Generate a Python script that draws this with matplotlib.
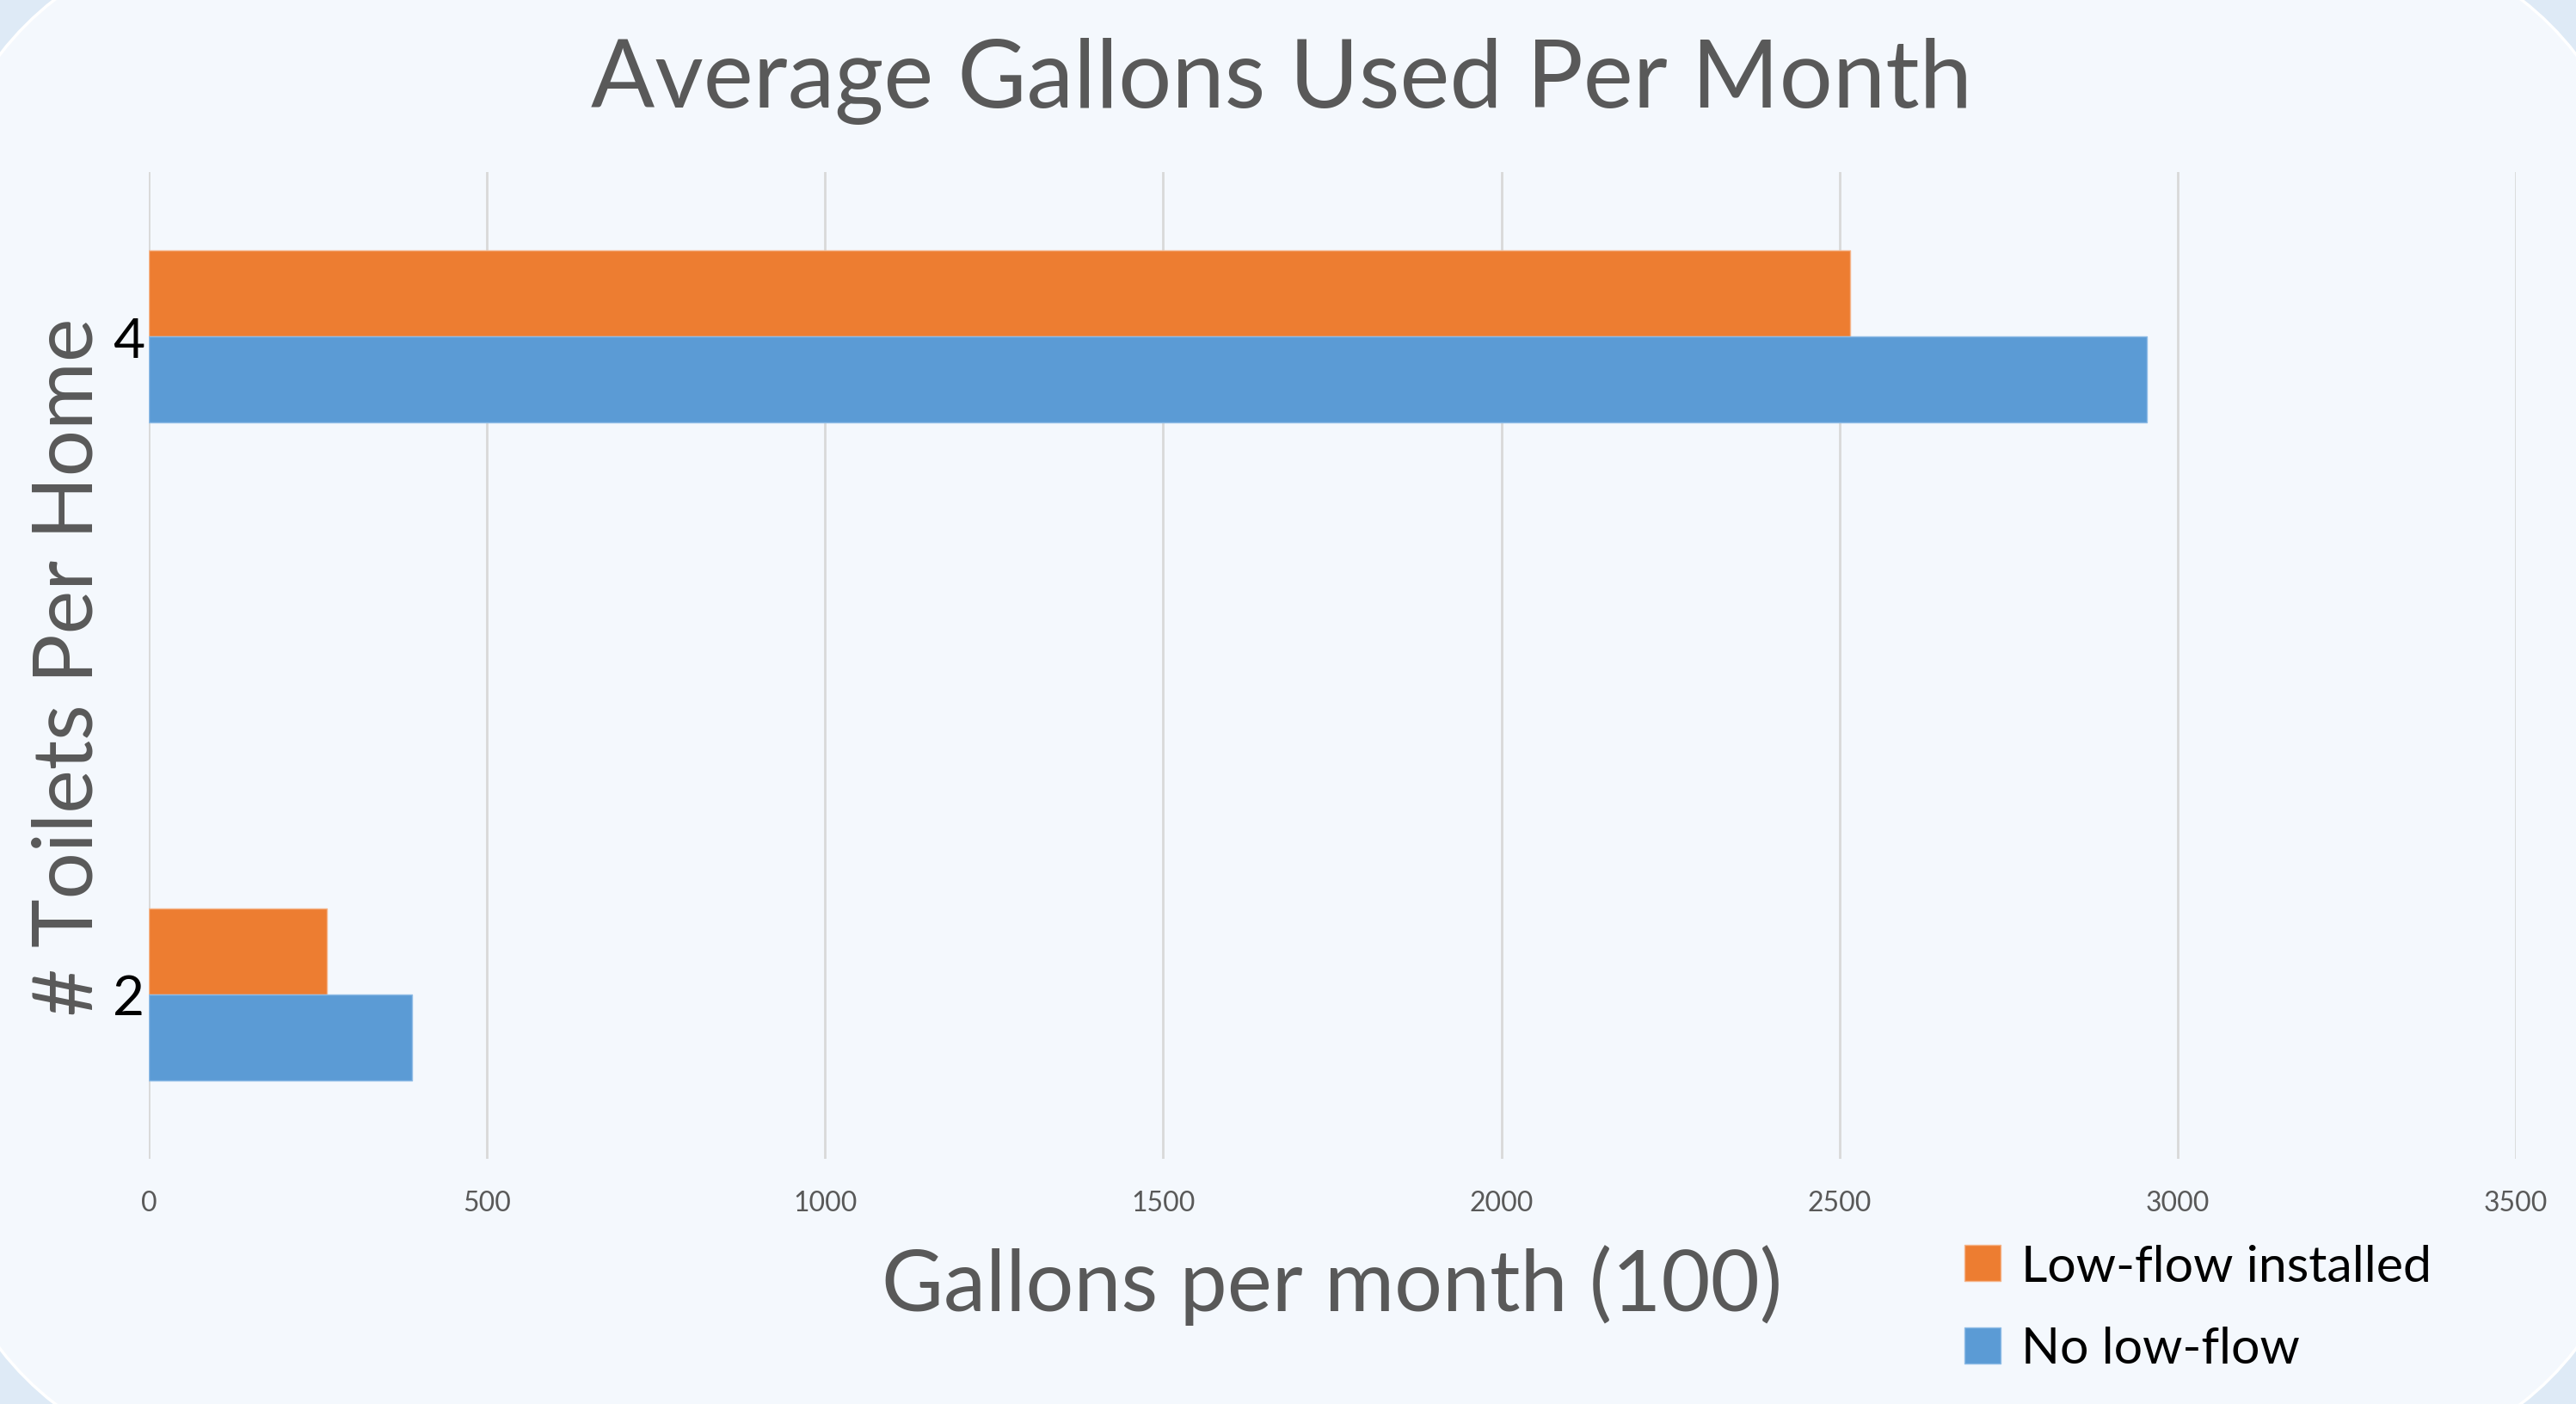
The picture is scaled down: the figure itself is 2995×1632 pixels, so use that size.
"""Average gallons used per month, by toilets per home (horizontal bar chart)."""

import matplotlib

matplotlib.use("Agg")
import matplotlib.pyplot as plt
from matplotlib.patches import FancyBboxPatch, Patch
from matplotlib.transforms import IdentityTransform
import numpy as np

# data
toilets = [2, 4]
low_flow = [263, 2516]
no_low_flow = [389, 2955]
series_labels = ["Low-flow installed", "No low-flow"]
x_ticks = [0, 500, 1000, 1500, 2000, 2500, 3000, 3500]

ORANGE = "#ED7D31"
BLUE = "#5B9BD5"
GREY_TEXT = "#595959"
OUTER_BG = "#DEEAF6"
INNER_BG = "#F4F8FD"

W, H, DPI = 2995, 1633, 100
plt.rcParams["font.family"] = ["Lato", "DejaVu Sans"]

fig = plt.figure(figsize=(W / DPI, H / DPI), dpi=DPI)
fig.patch.set_facecolor(OUTER_BG)

# rounded panel behind the chart (pixel coords, slightly larger than the canvas)
panel = FancyBboxPatch(
    (-95, -95), W + 190, H + 190,
    boxstyle="round,pad=0,rounding_size=500",
    transform=IdentityTransform(),
    facecolor=INNER_BG, edgecolor="white", linewidth=2.5, zorder=0,
)
fig.add_artist(panel)

ax = fig.add_axes([0.0579, 0.1745, 0.9186, 0.7024])
ax.set_facecolor("none")

bar_h = 0.262
y = np.array(toilets, dtype=float)
ax.barh(y + bar_h / 2, low_flow, height=bar_h, color=ORANGE,
        edgecolor="#F5B58A", linewidth=1, zorder=3)
ax.barh(y - bar_h / 2, no_low_flow, height=bar_h, color=BLUE,
        edgecolor="#8FBCE6", linewidth=1, zorder=3)

ax.set_xlim(0, 3500)
ax.set_ylim(1.5, 4.5)
ax.set_xticks(x_ticks)
ax.set_xticklabels([str(v) for v in x_ticks])
ax.set_yticks(toilets)
ax.set_yticklabels([str(t) for t in toilets])
ax.grid(axis="x", color="#D9D9D9", linewidth=2, zorder=1)
ax.grid(axis="y", visible=False)
for side in ("top", "right", "bottom", "left"):
    ax.spines[side].set_visible(False)
ax.tick_params(axis="x", length=0, pad=26, labelsize=23, labelcolor=GREY_TEXT)
ax.tick_params(axis="y", length=0, pad=4, labelsize=46, labelcolor="black")
for lbl in ax.get_yticklabels():
    lbl.set_verticalalignment("center_baseline")

fig.text(0.4975, 0.942, "Average Gallons Used Per Month", ha="center", va="center",
         fontsize=79, color=GREY_TEXT)
fig.text(0.517, 0.085, "Gallons per month (100)", ha="center", va="center",
         fontsize=71, color=GREY_TEXT)
fig.text(0.027, 0.525, "# Toilets Per Home", ha="center", va="center",
         rotation=90, fontsize=69, color=GREY_TEXT)

handles = [Patch(facecolor=ORANGE, edgecolor="#F5B58A"),
           Patch(facecolor=BLUE, edgecolor="#8FBCE6")]
fig.legend(handles, series_labels, loc="upper left",
           bbox_to_anchor=(0.7626, 0.114), frameon=False,
           fontsize=42.5, handlelength=0.72, handleheight=0.72,
           handletextpad=0.4, labelspacing=0.72, borderpad=0, borderaxespad=0)

fig.savefig("out.png", dpi=DPI, facecolor=fig.get_facecolor())
